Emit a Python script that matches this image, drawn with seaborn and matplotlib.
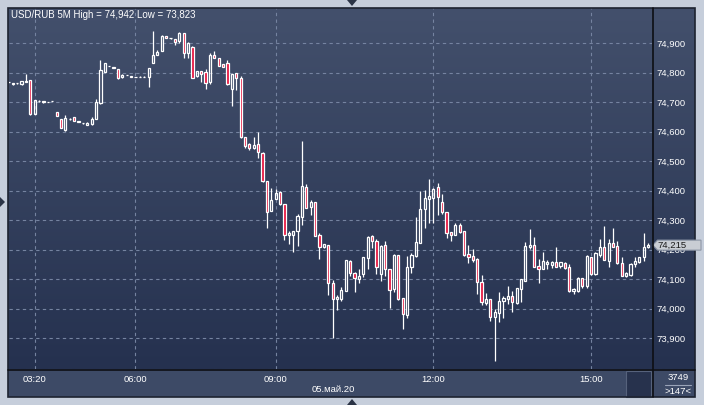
import numpy as np
import pandas as pd
import matplotlib
matplotlib.use("Agg")
import matplotlib.pyplot as plt
import seaborn as sns
from matplotlib.patches import Polygon, Rectangle

# USD/RUB 5 minute candles (the first one is cut by the left edge)
opens = [74.767, 74.761, 74.764, 74.763, 74.768, 74.775, 74.660, 74.702, 74.702, 74.700,
         74.703, 74.666, 74.642, 74.605, 74.642, 74.649, 74.635, 74.628, 74.621, 74.624,
         74.642, 74.696, 74.803, 74.823, 74.820, 74.811, 74.784, 74.792, 74.784, 74.784,
         74.786, 74.786, 74.784, 74.831, 74.858, 74.874, 74.924, 74.916, 74.913, 74.908,
         74.933, 74.868, 74.887, 74.788, 74.804, 74.802, 74.769, 74.859, 74.848, 74.829,
         74.831, 74.745, 74.797, 74.780, 74.580, 74.558, 74.545, 74.557, 74.529, 74.431,
         74.331, 74.372, 74.394, 74.354, 74.251, 74.250, 74.264, 74.311, 74.412, 74.343,
         74.360, 74.248, 74.207, 74.215, 74.085, 74.031, 74.031, 74.060, 74.161, 74.119,
         74.100, 74.116, 74.172, 74.246, 74.229, 74.116, 74.214, 74.133, 74.065, 74.180,
         74.035, 73.978, 74.142, 74.179, 74.223, 74.336, 74.372, 74.376, 74.411, 74.362,
         74.328, 74.259, 74.251, 74.283, 74.262, 74.185, 74.178, 74.168, 74.091, 74.020,
         74.031, 73.972, 73.984, 74.024, 74.031, 74.042, 74.018, 74.065, 74.094, 74.208,
         74.215, 74.144, 74.135, 74.152, 74.147, 74.157, 74.145, 74.153, 74.140, 74.060,
         74.060, 74.102, 74.077, 74.174, 74.117, 74.181, 74.207, 74.162, 74.223, 74.212,
         74.153, 74.111, 74.114, 74.151, 74.159, 74.174, 74.207]
highs = [74.768, 74.766, 74.765, 74.771, 74.795, 74.775, 74.708, 74.707, 74.703, 74.701,
         74.704, 74.666, 74.642, 74.656, 74.646, 74.649, 74.635, 74.629, 74.633, 74.650,
         74.710, 74.842, 74.832, 74.824, 74.820, 74.812, 74.794, 74.793, 74.787, 74.786,
         74.787, 74.787, 74.814, 74.942, 74.876, 74.929, 74.924, 74.917, 74.913, 74.938,
         74.934, 74.903, 74.890, 74.805, 74.805, 74.811, 74.867, 74.873, 74.849, 74.829,
         74.841, 74.795, 74.798, 74.788, 74.580, 74.561, 74.580, 74.598, 74.530, 74.431,
         74.408, 74.407, 74.398, 74.354, 74.264, 74.264, 74.320, 74.568, 74.422, 74.368,
         74.361, 74.255, 74.219, 74.217, 74.097, 74.046, 74.072, 74.166, 74.164, 74.125,
         74.134, 74.175, 74.246, 74.249, 74.236, 74.215, 74.228, 74.134, 74.186, 74.181,
         74.035, 74.178, 74.187, 74.309, 74.397, 74.402, 74.438, 74.408, 74.424, 74.388,
         74.329, 74.260, 74.289, 74.289, 74.263, 74.215, 74.202, 74.171, 74.114, 74.051,
         74.032, 73.997, 74.055, 74.042, 74.077, 74.060, 74.069, 74.100, 74.226, 74.268,
         74.243, 74.167, 74.191, 74.164, 74.160, 74.207, 74.158, 74.159, 74.151, 74.070,
         74.108, 74.103, 74.181, 74.175, 74.193, 74.236, 74.280, 74.235, 74.272, 74.230,
         74.174, 74.125, 74.155, 74.174, 74.175, 74.255, 74.221]
lows = [74.766, 74.759, 74.763, 74.759, 74.767, 74.657, 74.659, 74.701, 74.698, 74.699,
        74.702, 74.652, 74.612, 74.602, 74.639, 74.637, 74.631, 74.627, 74.621, 74.622,
        74.641, 74.693, 74.802, 74.821, 74.814, 74.778, 74.780, 74.791, 74.784, 74.784,
        74.785, 74.785, 74.751, 74.831, 74.858, 74.873, 74.916, 74.915, 74.893, 74.902,
        74.848, 74.848, 74.781, 74.786, 74.768, 74.746, 74.763, 74.850, 74.823, 74.820,
        74.759, 74.687, 74.741, 74.579, 74.545, 74.537, 74.540, 74.511, 74.430, 74.274,
        74.330, 74.370, 74.352, 74.232, 74.220, 74.193, 74.213, 74.283, 74.341, 74.317,
        74.246, 74.168, 74.206, 74.046, 73.899, 73.995, 74.026, 74.059, 74.110, 74.057,
        74.087, 74.106, 74.135, 74.206, 74.117, 74.093, 74.110, 74.003, 74.057, 74.029,
        73.929, 73.969, 74.121, 74.174, 74.222, 74.272, 74.291, 74.289, 74.317, 74.320,
        74.240, 74.230, 74.250, 74.255, 74.178, 74.155, 74.159, 74.049, 74.012, 74.012,
        73.959, 73.823, 73.953, 73.967, 74.015, 73.989, 74.017, 74.023, 74.093, 74.202,
        74.141, 74.085, 74.134, 74.133, 74.138, 74.141, 74.138, 74.133, 74.057, 74.049,
        74.057, 74.070, 74.070, 74.114, 74.114, 74.174, 74.163, 74.140, 74.208, 74.152,
        74.110, 74.108, 74.110, 74.142, 74.153, 74.162, 74.206]
closes = [74.767, 74.764, 74.764, 74.771, 74.773, 74.659, 74.707, 74.704, 74.699, 74.700,
          74.703, 74.652, 74.613, 74.645, 74.642, 74.637, 74.631, 74.628, 74.628, 74.642,
          74.701, 74.808, 74.831, 74.822, 74.814, 74.780, 74.793, 74.792, 74.787, 74.786,
          74.786, 74.786, 74.814, 74.859, 74.869, 74.924, 74.916, 74.916, 74.904, 74.933,
          74.868, 74.899, 74.782, 74.804, 74.795, 74.765, 74.859, 74.850, 74.823, 74.820,
          74.760, 74.794, 74.780, 74.580, 74.552, 74.546, 74.554, 74.532, 74.431, 74.328,
          74.368, 74.392, 74.353, 74.251, 74.257, 74.264, 74.314, 74.414, 74.342, 74.361,
          74.247, 74.209, 74.218, 74.085, 74.031, 74.039, 74.063, 74.164, 74.119, 74.102,
          74.112, 74.174, 74.241, 74.230, 74.142, 74.212, 74.133, 74.063, 74.181, 74.033,
          73.982, 74.142, 74.180, 74.224, 74.336, 74.374, 74.381, 74.407, 74.377, 74.329,
          74.255, 74.251, 74.282, 74.260, 74.181, 74.176, 74.164, 74.091, 74.023, 74.031,
          73.972, 73.987, 74.025, 74.036, 74.042, 74.021, 74.068, 74.099, 74.212, 74.214,
          74.142, 74.135, 74.161, 74.157, 74.159, 74.142, 74.157, 74.138, 74.058, 74.065,
          74.102, 74.077, 74.178, 74.117, 74.187, 74.207, 74.164, 74.223, 74.209, 74.153,
          74.111, 74.119, 74.151, 74.161, 74.174, 74.207, 74.215]

time_ticks = [6, 29, 61, 97, 133]
time_labels = ["03:20", "06:00", "09:00", "12:00", "15:00"]
price_ticks = [73.9, 74.0, 74.1, 74.2, 74.3, 74.4, 74.5, 74.6, 74.7, 74.8, 74.9]
date_label = "05.май.20"
title = "USD/RUB 5M High = 74,942 Low = 73,823"
last_price = 74.215
ticks_count = "3749"
bars_count = ">147<"

df = pd.DataFrame({"open": opens, "high": highs, "low": lows, "close": closes})
df["x"] = np.arange(len(df))
df["up"] = df["close"] >= df["open"]
df["top"] = df[["open", "close"]].max(axis=1)
df["bot"] = df[["open", "close"]].min(axis=1)

sns.set_theme(style="dark")
plt.rcParams["font.family"] = ["Liberation Sans", "DejaVu Sans"]

W, H = 704, 405
fig = plt.figure(figsize=(W / 100, H / 100), dpi=100)
fig.patch.set_facecolor("#c6cedb")

# background panels, in pixel coordinates
bg = fig.add_axes([0, 0, 1, 1], zorder=0)
bg.set_xlim(0, W)
bg.set_ylim(H, 0)
bg.axis("off")
grad = np.linspace(0, 1, 256).reshape(-1, 1)
top_c = np.array([0x43, 0x50, 0x6c]) / 255
bot_c = np.array([0x25, 0x31, 0x4f]) / 255
img = top_c + grad[..., None] * (bot_c - top_c)
bg.imshow(img, extent=(8, 695, 369, 8), aspect="auto", interpolation="bilinear")
bg.add_patch(Rectangle((8, 369), 687, 28, fc="#3d4a66", ec="none"))
bg.add_patch(Rectangle((626, 371), 25, 26, fc="#27324d", ec="#56627c", lw=0.8))

# main price chart
ax = fig.add_axes([9 / W, (H - 369) / H, 643 / W, 361 / H], zorder=1)
ax.patch.set_visible(False)
ax.set_xlim(0.13, 146.9)
ax.set_ylim(73.795, 75.019)

red = "#e5133d"
ax.vlines(df["x"], df["top"], df["high"], color="white", lw=0.9, zorder=3)
ax.vlines(df["x"], df["low"], df["bot"], color="white", lw=0.9, zorder=3)
face = np.where(df["up"], "none", red)
ax.bar(df["x"], df["top"] - df["bot"], bottom=df["bot"], width=0.5,
       color=face, edgecolor="white", linewidth=0.9, zorder=4)

ax.set_axisbelow(True)
ax.set_yticks(price_ticks)
ax.set_yticklabels([f"{v:.3f}".replace(".", ",") for v in price_ticks])
ax.set_xticks(time_ticks)
ax.set_xticklabels(time_labels)
ax.yaxis.tick_right()
ax.tick_params(axis="y", length=0, pad=3, labelcolor="white", labelsize=6.8)
ax.tick_params(axis="x", length=0, pad=4, labelcolor="white", labelsize=6.8)
ax.grid(True, color="#7583a0", lw=0.8, linestyle=(0, (3, 3)))
for s in ax.spines.values():
    s.set_visible(False)

# overlay: frame lines, markers, labels
ov = fig.add_axes([0, 0, 1, 1], zorder=5)
ov.set_xlim(0, W)
ov.set_ylim(H, 0)
ov.axis("off")
ov.patch.set_visible(False)
ov.add_patch(Rectangle((8, 8), 687, 389, fc="none", ec="#1d2330", lw=1.2))
ov.plot([652.5, 652.5], [8, 397], color="#0d0f14", lw=1.2)
ov.plot([8, 695], [369.5, 369.5], color="#0d0f14", lw=1.2)
tri = "#2b3446"
ov.add_patch(Polygon([(347, 0), (357, 0), (352, 6)], fc=tri, ec="none"))
ov.add_patch(Polygon([(347, 405), (357, 405), (352, 399)], fc=tri, ec="none"))
ov.add_patch(Polygon([(0, 197), (0, 207), (5, 202)], fc=tri, ec="none"))

ov.text(11, 15, title, color="white", fontsize=7, va="center", ha="left")
ov.text(333, 390, date_label, color="white", fontsize=6.8, va="center", ha="center")
ov.text(678, 378, ticks_count, color="white", fontsize=6.8, va="center", ha="center")
ov.plot([665, 691], [384.5, 384.5], color="#9aa4b8", lw=0.8)
ov.text(678, 391, bars_count, color="white", fontsize=6.8, va="center", ha="center")

# last price tag on the price scale
ty = H - ax.transData.transform((0, last_price))[1]
ov.add_patch(Polygon([(653, ty), (657.5, ty - 5), (701, ty - 5), (701, ty + 5), (657.5, ty + 5)],
                     fc="#c9cdd4", ec="#8d96a6", lw=0.8))
ov.text(657, ty, f"{last_price:.3f}".replace(".", ","), color="#1a1a1a",
        fontsize=6.8, va="center", ha="left")

fig.savefig("out.png", dpi=100)
